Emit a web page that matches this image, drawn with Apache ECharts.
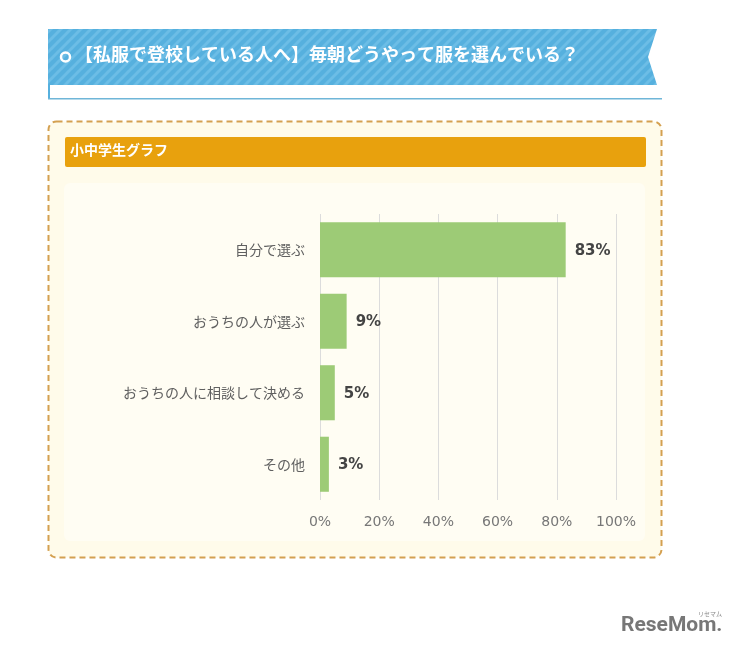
<!DOCTYPE html>
<html><head><meta charset="utf-8">
<script src="https://cdn.jsdelivr.net/npm/echarts@6/dist/echarts.min.js"></script>
<style>html,body{margin:0;padding:0;background:#fff;}#c{width:731px;height:651px;}</style>
</head><body><div id="c"></div>
<script>
const categories = ['自分で選ぶ', 'おうちの人が選ぶ', 'おうちの人に相談して決める', 'その他'];
const values = [83, 9, 5, 3];
const tickLabels = ['0%', '20%', '40%', '60%', '80%', '100%'];
const titleText = '【私服で登校している人へ】毎朝どうやって服を選んでいる？';
const subTitle = '小中学生グラフ';

const FONT = '"Noto Sans CJK JP", "Noto Sans", sans-serif';
const NUMFONT = '"DejaVu Sans", sans-serif';

// stripe pattern
const pc = document.createElement('canvas');
pc.width = 10; pc.height = 10;
const px = pc.getContext('2d');
px.fillStyle = '#56b0de'; px.fillRect(0, 0, 10, 10);
px.strokeStyle = '#6cbde6'; px.lineWidth = 3;
for (let k = -1; k <= 1; k++) {
  px.beginPath(); px.moveTo(k * 10 - 1, 11); px.lineTo(k * 10 + 11, -1); px.stroke();
}

const chart = echarts.init(document.getElementById('c'), null, {renderer: 'canvas'});
chart.setOption({
  backgroundColor: '#ffffff',
  animation: false,
  graphic: [
    {type: 'polygon', z: 0, shape: {points: [[48, 29], [657, 29], [648, 57], [657, 85], [48, 85]]},
      style: {fill: {image: pc, repeat: 'repeat'}}},
    {type: 'rect', z: 0, shape: {x: 48, y: 85, width: 2, height: 14}, style: {fill: '#56b0de'}},
    {type: 'rect', z: 0, shape: {x: 48, y: 98, width: 614, height: 1.5}, style: {fill: '#6fb6d8'}},
    {type: 'circle', z: 1, shape: {cx: 65.5, cy: 57, r: 4.5}, style: {fill: 'none', stroke: '#ffffff', lineWidth: 2.5}},
    {type: 'text', z: 1, left: 75, top: 45, style: {text: titleText, fill: '#ffffff', font: 'bold 18px ' + FONT}},
    {type: 'rect', z: 0, shape: {x: 48.5, y: 121.5, width: 613, height: 436, r: 8},
      style: {fill: '#fffbea', stroke: '#d4a050', lineWidth: 2, lineDash: [6, 4]}},
    {type: 'rect', z: 0, shape: {x: 64, y: 183, width: 581, height: 358, r: 6},
      style: {fill: '#fffdf3'}},
    {type: 'rect', z: 0, shape: {x: 65, y: 137, width: 581, height: 30, r: 2}, style: {fill: '#e8a10d'}},
    {type: 'text', z: 1, left: 70, top: 143, style: {text: subTitle, fill: '#ffffff', font: 'bold 14px ' + FONT}},
    {type: 'text', z: 1, left: 698, top: 611, style: {text: 'リセマム', fill: '#888', font: '6px ' + FONT}},
    {type: 'text', z: 1, left: 621, top: 615, style: {text: 'ReseMom.', fill: '#777777', font: 'bold 21px Roboto, sans-serif'}}
  ],
  grid: {left: 320, right: 115, top: 214, bottom: 151, containLabel: false},
  xAxis: {
    type: 'value', min: 0, max: 100, interval: 20,
    axisLine: {show: false}, axisTick: {show: false},
    splitLine: {show: true, lineStyle: {color: '#dcdcdc', width: 1}},
    axisLabel: {margin: 15, color: '#777', fontSize: 14, fontFamily: NUMFONT,
      formatter: function (v) { return tickLabels[Math.round(v / 20)]; }}
  },
  yAxis: {
    type: 'category', data: categories, inverse: true,
    axisLine: {show: false}, axisTick: {show: false},
    axisLabel: {margin: 15, color: '#606060', fontSize: 14, fontFamily: FONT}
  },
  series: [{
    type: 'bar', data: values, barCategoryGap: '23%',
    itemStyle: {color: '#9dcb76'},
    label: {show: true, position: 'right', distance: 9, formatter: '{c}%',
      color: '#444', fontSize: 15, fontWeight: 'bold', fontFamily: NUMFONT, offset: [0, 1]}
  }]
});
</script></body></html>
